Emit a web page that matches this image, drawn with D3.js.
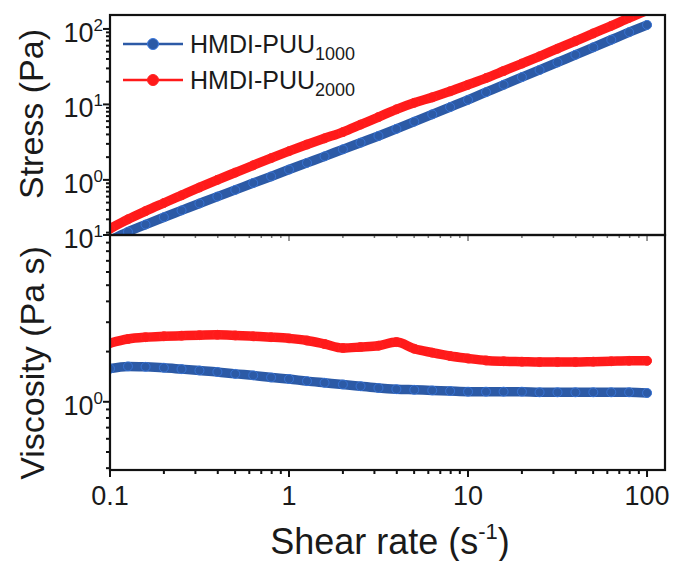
<!DOCTYPE html>
<html><head><meta charset="utf-8">
<script src="https://cdn.jsdelivr.net/npm/d3@7"></script>
<style>body{margin:0;background:#fff}svg{display:block}text{font-family:Arial,"Liberation Sans",sans-serif;fill:#1a1a1a}</style>
</head><body><svg id="c" width="673" height="561"></svg>
<script>
const shearRate = [0.1,0.126,0.158,0.2,0.251,0.316,0.398,0.501,0.631,0.794,1,1.26,1.58,2,2.51,3.16,3.98,5.01,6.31,7.94,10,12.6,15.8,20,25.1,31.6,39.8,50.1,63.1,79.4,100];
const viscosity1000 = [1.58,1.63,1.62,1.60,1.57,1.54,1.51,1.47,1.44,1.40,1.37,1.33,1.30,1.27,1.24,1.21,1.19,1.18,1.17,1.16,1.15,1.15,1.15,1.15,1.14,1.14,1.14,1.14,1.14,1.14,1.13];
const viscosity2000 = [2.25,2.38,2.44,2.47,2.49,2.51,2.52,2.50,2.47,2.44,2.40,2.33,2.22,2.10,2.13,2.17,2.28,2.08,1.97,1.88,1.82,1.77,1.75,1.74,1.73,1.73,1.73,1.74,1.75,1.76,1.76];
const stress1000 = [0.158,0.205,0.256,0.320,0.394,0.487,0.601,0.736,0.909,1.11,1.37,1.68,2.05,2.54,3.11,3.82,4.74,5.91,7.38,9.21,11.5,14.5,18.2,23.0,28.6,36.0,45.4,57.1,71.9,90.5,113];
const stress2000 = [0.225,0.300,0.386,0.494,0.625,0.793,1.00,1.25,1.56,1.94,2.40,2.94,3.55,4.30,5.40,6.80,8.60,10.5,12.4,14.9,18.2,22.3,27.7,34.8,43.4,54.7,68.9,87.2,110,140,176];
const seriesNames = ["HMDI-PUU", "HMDI-PUU"];
const seriesSubs = ["1000", "2000"];
const seriesColors = ["#2c5aa6", "#ff1a1a"];
const xTickLabels = ["0.1","1","10","100"];
const stressTickExp = ["2","1","0"];
const viscTickExp = ["1","0"];

const svg = d3.select("#c");
const L = 110, R = 665, T1 = 15, B1 = 235, T2 = 235, B2 = 470;
const x = d3.scaleLog().domain([0.1, 126]).range([L, R]);
const yS = d3.scaleLog().domain([0.186, 153]).range([B1, T1]);
const yV = d3.scaleLog().domain([0.39, 10]).range([B2, T2]);

const defs = svg.append("defs");
defs.append("clipPath").attr("id","cp1").append("rect").attr("x",L).attr("y",T1).attr("width",R-L).attr("height",B1-T1);
defs.append("clipPath").attr("id","cp2").append("rect").attr("x",L).attr("y",T2).attr("width",R-L).attr("height",B2-T2);

function drawSeries(g, xs, ys, yScale, color) {
  const pts = xs.map((d,i)=>[x(d), yScale(ys[i])]);
  g.append("path").attr("d", d3.line().curve(d3.curveMonotoneX)(pts))
    .attr("fill","none").attr("stroke",color).attr("stroke-width",9.5).attr("stroke-linecap","round").attr("stroke-linejoin","round");
  g.selectAll(null).data(pts).enter().append("circle")
    .attr("cx",d=>d[0]).attr("cy",d=>d[1]).attr("r",4.5)
    .attr("fill",color).attr("stroke", d3.color(color).brighter(0.8)).attr("stroke-width",0.8);
}
const g1 = svg.append("g").attr("clip-path","url(#cp1)");
drawSeries(g1, shearRate, stress1000, yS, seriesColors[0]);
drawSeries(g1, shearRate, stress2000, yS, seriesColors[1]);
const g2 = svg.append("g").attr("clip-path","url(#cp2)");
drawSeries(g2, shearRate, viscosity1000, yV, seriesColors[0]);
drawSeries(g2, shearRate, viscosity2000, yV, seriesColors[1]);

const ax = svg.append("g");
function allLogTicks(lo, hi) {
  const out = [];
  for (let e = -3; e <= 3; e++) for (let m = 1; m <= 9; m++) {
    const v = m * Math.pow(10, e);
    if (v >= lo * 0.999 && v <= hi * 1.001) out.push({v, major: m === 1});
  }
  return out;
}
allLogTicks(0.1, 126).forEach(t => {
  ax.append("line").attr("x1", x(t.v)).attr("x2", x(t.v)).attr("y1", B2).attr("y2", B2 + (t.major ? 7 : 4))
    .attr("stroke","#111").attr("stroke-width", 2);
  ax.append("line").attr("x1", x(t.v)).attr("x2", x(t.v)).attr("y1", B1).attr("y2", B1 + (t.major ? 6 : 3))
    .attr("stroke","#777").attr("stroke-width", 1.5);
});
allLogTicks(0.186, 153).forEach(t => {
  ax.append("line").attr("x1", L).attr("x2", L - (t.major ? 7 : 4)).attr("y1", yS(t.v)).attr("y2", yS(t.v))
    .attr("stroke","#111").attr("stroke-width", 2);
});
allLogTicks(0.39, 10).forEach(t => {
  ax.append("line").attr("x1", L).attr("x2", L - (t.major ? 7 : 4)).attr("y1", yV(t.v)).attr("y2", yV(t.v))
    .attr("stroke","#111").attr("stroke-width", 2);
});
[[T1,B1],[T2,B2]].forEach(([t,b]) => {
  svg.append("rect").attr("x",L).attr("y",t).attr("width",R-L).attr("height",b-t)
    .attr("fill","none").attr("stroke","#111").attr("stroke-width",2.2);
});

[0.1,1,10,100].forEach((v,i) => {
  svg.append("text").attr("x", x(v)).attr("y", 505).attr("text-anchor","middle")
    .attr("font-size", 27).text(xTickLabels[i]);
});
function powLabel(y, exp) {
  const t = svg.append("text").attr("x", 103).attr("y", y + 13).attr("text-anchor","end").attr("font-size", 27);
  t.append("tspan").text("10");
  t.append("tspan").attr("font-size", 17).attr("dy", -11).text(exp);
}
[100,10,1].forEach((v,i) => powLabel(yS(v), stressTickExp[i]));
[10,1].forEach((v,i) => powLabel(yV(v), viscTickExp[i]));

svg.append("text").attr("transform","translate(43,114) rotate(-90)").attr("text-anchor","middle")
  .attr("font-size", 34).text("Stress (Pa)");
svg.append("text").attr("transform","translate(44,363) rotate(-90)").attr("text-anchor","middle")
  .attr("font-size", 34).text("Viscosity (Pa s)");
const xt = svg.append("text").attr("x", 390).attr("y", 554).attr("text-anchor","middle").attr("font-size", 36);
xt.append("tspan").text("Shear rate (s");
xt.append("tspan").attr("font-size", 22).attr("dy", -15).text("-1");
xt.append("tspan").attr("dy", 15).text(")");

[44, 80].forEach((ly, i) => {
  const lg = svg.append("g");
  lg.append("line").attr("x1",123).attr("x2",183).attr("y1",ly).attr("y2",ly).attr("stroke",seriesColors[i]).attr("stroke-width",2.5);
  lg.append("circle").attr("cx",153).attr("cy",ly).attr("r",5.5).attr("fill",seriesColors[i]).attr("stroke",d3.color(seriesColors[i]).brighter(0.8)).attr("stroke-width",1);
  const t = lg.append("text").attr("x",190).attr("y",ly+9).attr("font-size",25);
  t.append("tspan").text(seriesNames[i]);
  t.append("tspan").attr("font-size",18).attr("dy",7).text(seriesSubs[i]);
});
</script></body></html>
